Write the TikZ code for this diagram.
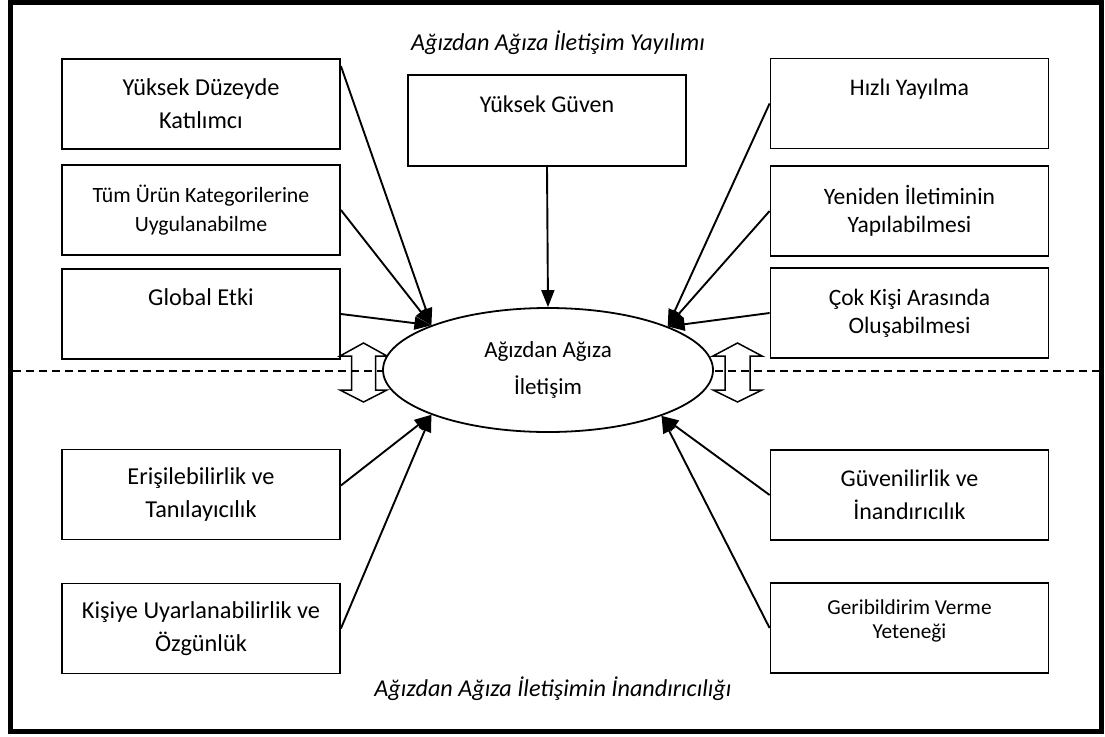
\documentclass[tikz,border=0pt]{standalone}
\usepackage{fontspec}
\setmainfont{Carlito}
\usetikzlibrary{arrows.meta,shapes.geometric}
\begin{document}
\begin{tikzpicture}[x=1pt,y=-1pt,
  box/.style={draw,line width=1.8pt,minimum width=278pt,minimum height=90pt,
    inner sep=0pt,align=center,font=\fontsize{24.3}{33}\selectfont},
  smallbox/.style={box,font=\fontsize{21.8}{29}\selectfont},
  conn/.style={line width=1.9pt,-{Triangle[length=17pt,width=13pt]}},
  dblarrow/.style={line width=1.5pt},
  title/.style={font=\fontsize{24.2}{28}\selectfont\itshape}]
\useasboundingbox (0,0) rectangle (1105,736);
% outer frame
\draw[line width=5pt] (10.5,2.5) rectangle (1101.5,731);
% separator between the two halves
\draw[line width=1.6pt,dash pattern=on 8pt off 5pt] (13,371) -- (1099,371);
% titles
\node[title] (ttop) at (558,43) {Ağızdan Ağıza İletişim Yayılımı};
\node[title] (tbot) at (553,689) {Ağızdan Ağıza İletişimin İnandırıcılığı};
% left column
\node[box] (yd) at (201,104) {Yüksek Düzeyde\\Katılımcı};
\node[smallbox] (tu) at (201,210) {Tüm Ürün Kategorilerine\\Uygulanabilme};
\node[box] (ge) at (201,314) {Global Etki\\\mbox{}};
\node[box] (er) at (201,494.5) {Erişilebilirlik ve\\Tanılayıcılık};
\node[box] (ki) at (201,628.5) {Kişiye Uyarlanabilirlik ve\\Özgünlük};
% centre
\node[box,minimum height=91pt,font=\fontsize{24}{33}\selectfont] (yg) at (547,120.5) {Yüksek Güven\\\mbox{}};
% right column
\node[box,font=\fontsize{23.8}{33}\selectfont] (hy) at (909.5,103.5) {Hızlı Yayılma\\\mbox{}};
\node[box,font=\fontsize{23.5}{28}\selectfont] (yi) at (909.5,211) {Yeniden İletiminin\\Yapılabilmesi};
\node[box,font=\fontsize{23.5}{28}\selectfont] (ck) at (909.5,313) {Çok Kişi Arasında\\Oluşabilmesi};
\node[box,font=\fontsize{24}{33}\selectfont] (gu) at (909.5,495) {Güvenilirlik ve\\İnandırıcılık};
\node[smallbox,font=\fontsize{21.3}{24}\selectfont] (gb) at (909.5,628) {Geribildirim Verme\\Yeteneği\\[-6pt]\mbox{}};
% up-down arrows on the separator
\draw[dblarrow] (363.5,343) -- (387,356) -- (375.5,356) -- (375.5,390) -- (387,390)
  -- (363.5,402) -- (340,390) -- (351.5,390) -- (351.5,356) -- (340,356) -- cycle;
\draw[dblarrow] (737.5,343) -- (762,356) -- (750,356) -- (750,390) -- (762,390)
  -- (737.5,402) -- (713,390) -- (725,390) -- (725,356) -- (713,356) -- cycle;
% central ellipse
\node[draw,ellipse,fill=white,line width=1.8pt,minimum width=330pt,minimum height=124pt,
  inner sep=0pt,align=center,font=\fontsize{23}{37}\selectfont] (wom) at (548,370)
  {Ağızdan Ağıza\\İletişim};
% connectors
\draw[conn] ([yshift=-8pt]yd.north east) -- (wom.159.5);
\draw[conn] (tu.east) -- (wom.159.5);
\draw[conn] (ge.east) -- (wom.159.5);
\draw[conn] (yg.south) -- (wom.north);
\draw[conn] (hy.west) -- (wom.20.5);
\draw[conn] (yi.west) -- (wom.20.5);
\draw[conn] (ck.west) -- (wom.20.5);
\draw[conn] ([yshift=9pt]er.east) -- (wom.201.7);
\draw[conn] (ki.east) -- (wom.201.7);
\draw[conn] (gu.west) -- (wom.338.3);
\draw[conn] (gb.west) -- (wom.338.3);
\end{tikzpicture}
\end{document}
